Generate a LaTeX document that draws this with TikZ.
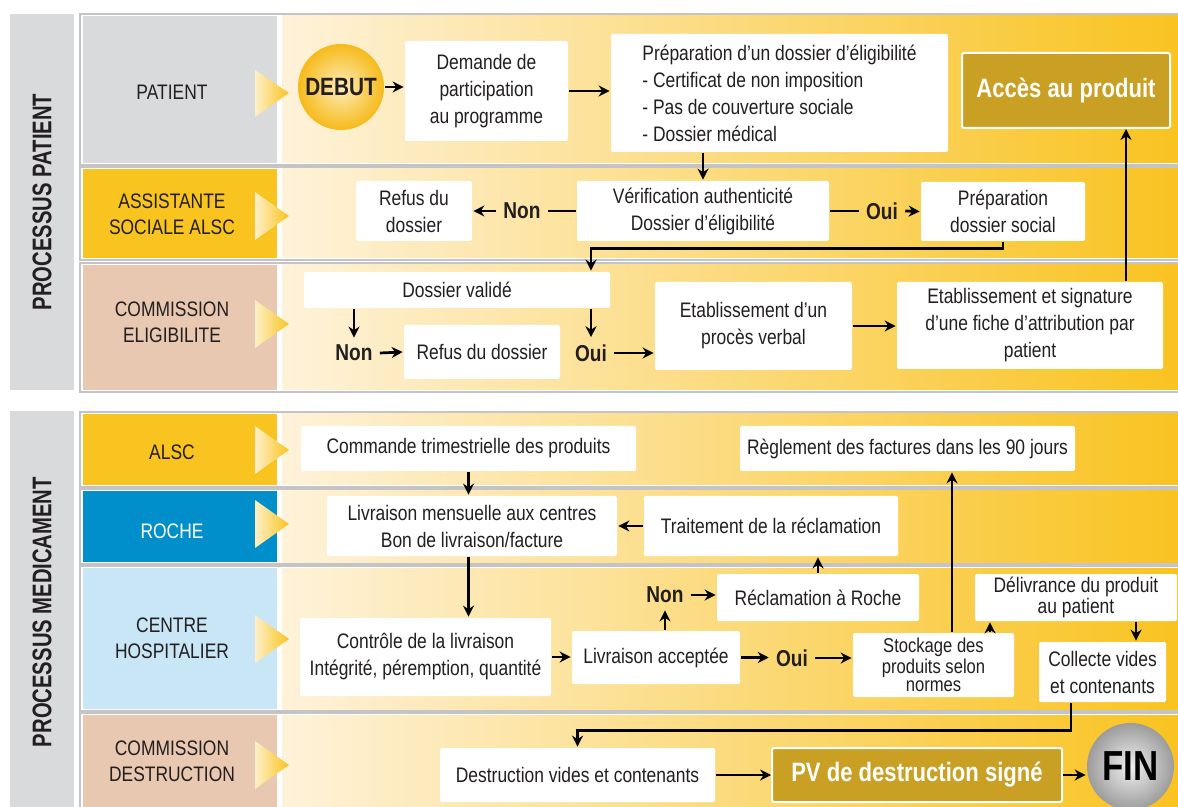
\documentclass[tikz,border=0pt]{standalone}
\usepackage{fontspec}
\setmainfont[FakeStretch=0.83]{Liberation Sans}
\newfontfamily\titlefont[FakeStretch=0.75]{Liberation Sans}
\usepackage{tikz}
\usetikzlibrary{arrows.meta}
\definecolor{laneGray}{HTML}{D9DADC}
\definecolor{laneLine}{HTML}{C4C4C6}
\definecolor{laneYellow}{HTML}{F9C41F}
\definecolor{laneBeige}{HTML}{E8C8B0}
\definecolor{laneBlue}{HTML}{008FCB}
\definecolor{laneSky}{HTML}{C8E6F6}
\definecolor{cream}{HTML}{FEF2DA}
\definecolor{goldR}{HTML}{F9C320}
\definecolor{goldBox}{HTML}{C9A023}
\definecolor{triLeft}{HTML}{FDF0C8}
\definecolor{debutIn}{HTML}{FDEDB8}
\definecolor{debutOut}{HTML}{F6BA1A}
\definecolor{finIn}{HTML}{F0F0F0}
\definecolor{finOut}{HTML}{9C9C9C}
\definecolor{txt}{HTML}{231F20}

\begin{document}
\begin{tikzpicture}[x=0.5pt, y=-0.5pt, line width=1.35pt, >={Stealth[length=5.5pt,width=5.5pt]},
	main/.style={fill=white, rounded corners=1pt, align=center, inner sep=0pt, text=txt, font=\fontsize{10.5}{13.5}\selectfont},
	gold/.style={fill=goldBox, draw=white, line width=1pt, rounded corners=1pt, inner sep=0pt, text=white, font=\bfseries\fontsize{13.3}{15}\selectfont},
	choice/.style={inner sep=3pt, text=txt, font=\bfseries\fontsize{11.5}{14}\selectfont},
	lane/.style={draw=laneLine, line width=0.6pt, fill=white},
	lanelabel/.style={align=center, text=txt, font=\fontsize{10.5}{13}\selectfont},
	title/.style={rotate=90, text=txt, font=\titlefont\bfseries\fontsize{13.5}{15}\selectfont},
	tri/.style={left color=triLeft, right color=goldR}]
		\useasboundingbox (0,0) rectangle (1178,807);

		\fill[laneGray] (10,14) rectangle (74,390);
		\fill[laneGray] (10,411) rectangle (74,807);
		\node[title] (t1) at (42,202) {PROCESSUS PATIENT};
		\node[title] (t2) at (42,612) {PROCESSUS MEDICAMENT};

		\draw[lane] (80,14) rectangle (1182,165);
		\fill[laneGray] (83,16) rectangle (277,163);
		\shade[left color=cream, right color=goldR] (282,16) rectangle (1178,163);
		\draw[lane] (80,167) rectangle (1182,260);
		\fill[laneYellow] (83,169) rectangle (277,258);
		\shade[left color=cream, right color=goldR] (282,169) rectangle (1178,258);
		\draw[lane] (80,263) rectangle (1182,392);
		\fill[laneBeige] (83,265) rectangle (277,390);
		\shade[left color=cream, right color=goldR] (282,265) rectangle (1178,390);

		\draw[lane] (80,412) rectangle (1182,487);
		\fill[laneYellow] (83,414) rectangle (277,485);
		\shade[left color=cream, right color=goldR] (282,414) rectangle (1178,485);
		\draw[lane] (80,489) rectangle (1182,564);
		\fill[laneBlue] (83,491) rectangle (277,562);
		\shade[left color=cream, right color=goldR] (282,491) rectangle (1178,562);
		\draw[lane] (80,566) rectangle (1182,711);
		\fill[laneSky] (83,568) rectangle (277,709);
		\shade[left color=cream, right color=goldR] (282,568) rectangle (1178,709);
		\draw[lane] (80,713) rectangle (1182,809);
		\fill[laneBeige] (83,715) rectangle (277,809);
		\shade[left color=cream, right color=goldR] (282,715) rectangle (1178,809);

		\shade[tri] (255,70) -- (289,93) -- (255,117) -- cycle;
		\shade[tri] (255,192) -- (289,216) -- (255,240) -- cycle;
		\shade[tri] (255,300) -- (289,324) -- (255,348) -- cycle;
		\shade[tri] (255,426) -- (289,450) -- (255,474) -- cycle;
		\shade[tri] (255,500) -- (289,524) -- (255,548) -- cycle;
		\shade[tri] (255,615) -- (289,639) -- (255,663) -- cycle;
		\shade[tri] (255,741) -- (289,765) -- (255,789) -- cycle;

		\node[lanelabel] (l1) at (172,92) {PATIENT};
		\node[lanelabel] (l2) at (172,214) {ASSISTANTE\\SOCIALE ALSC};
		\node[lanelabel] (l3) at (172,322) {COMMISSION\\ELIGIBILITE};
		\node[lanelabel] (l4) at (172,452) {ALSC};
		\node[lanelabel, text=white] (l5) at (172,531) {ROCHE};
		\node[lanelabel] (l6) at (172,638) {CENTRE\\HOSPITALIER};
		\node[lanelabel] (l7) at (172,761) {COMMISSION\\DESTRUCTION};

		\node[circle, minimum size=43pt, inner sep=0pt, inner color=debutIn, outer color=debutOut, text=txt, font=\bfseries\fontsize{12.5}{14}\selectfont] (1) at (341,87) {DEBUT};
		\node[main, minimum width=81.5pt, minimum height=50pt] (2) at (486.5,91) {Demande de\\participation\\au programme};
		\node[main, align=left, minimum width=168.5pt, minimum height=59pt] (3) at (779.5,93) {Préparation d’un dossier d’éligibilité\\- Certificat de non imposition\\- Pas de couverture sociale\\- Dossier médical};
		\node[gold, minimum width=104pt, minimum height=37.5pt] (4) at (1066,90.5) {Accès au produit};

		\node[main, minimum width=58pt, minimum height=30pt] (5) at (414,211) {Refus du\\dossier};
		\node[choice] (6) at (522,211) {Non};
		\node[main, minimum width=126pt, minimum height=30pt] (7) at (703,211) {Vérification authenticité\\Dossier d’éligibilité};
		\node[choice] (8) at (882,211) {Oui};
		\node[main, minimum width=82pt, minimum height=29.5pt] (9) at (1003,211.5) {Préparation\\dossier social};

		\node[main, minimum width=153pt, minimum height=18pt] (10) at (457,290) {Dossier validé};
		\node[choice] (11) at (354,353) {Non};
		\node[main, minimum width=78pt, minimum height=27pt] (12) at (482,352) {Refus du dossier};
		\node[choice] (13) at (591,353) {Oui};
		\node[main, minimum width=98.5pt, minimum height=44pt] (14) at (753.5,326) {Etablissement d’un\\procès verbal};
		\node[main, minimum width=133pt, minimum height=43.5pt] (15) at (1030,325.5) {Etablissement et signature\\d’une fiche d’attribution par\\patient};

		\node[main, minimum width=167.5pt, minimum height=22.5pt] (16) at (468.5,448.5) {Commande trimestrielle des produits};
		\node[main, minimum width=167.5pt, minimum height=22.5pt] (17) at (907.5,448.5) {Règlement des factures dans les 90 jours};
		\node[main, minimum width=145pt, minimum height=30pt] (18) at (472,526) {Livraison mensuelle aux centres\\Bon de livraison/facture};
		\node[main, minimum width=127pt, minimum height=30pt] (19) at (771,526) {Traitement de la réclamation};
		\node[choice] (20) at (665,595) {Non};
		\node[main, minimum width=101pt, minimum height=23.5pt] (21) at (818,597.5) {Réclamation à Roche};
		\node[main, minimum width=125.5pt, minimum height=39pt] (22) at (425.5,657) {Contrôle de la livraison\\Intégrité, péremption, quantité};
		\node[main, minimum width=84pt, minimum height=26.5pt] (23) at (656,657.5) {Livraison acceptée};
		\node[choice] (24) at (792,658) {Oui};
		\node[main, minimum width=80.5pt, minimum height=32pt, font=\fontsize{10}{9.3}\selectfont] (25) at (933.5,665) {Stockage des\\produits selon\\normes};
		\node[main, minimum width=101pt, minimum height=23.5pt, font=\fontsize{10.5}{8.8}\selectfont] (26) at (1076,597.5) {Délivrance du produit\\au patient};
		\node[main, minimum width=63.5pt, minimum height=30pt] (27) at (1102.5,672) {Collecte vides\\et contenants};
		\node[main, minimum width=137.5pt, minimum height=27pt] (28) at (577.5,775) {Destruction vides et contenants};
		\node[gold, minimum width=145pt, minimum height=27pt] (29) at (917,775) {PV de destruction signé};
		\node[circle, minimum size=43.5pt, inner sep=0pt, inner color=finIn, outer color=finOut, text=black, font=\bfseries\fontsize{21}{22}\selectfont] (30) at (1130.5,766.5) {FIN};

		\draw[->] (1.east) -- (1.east -| 2.west);
		\draw[->] (2.east) -- (2.east -| 3.west);
		\draw[->] (7.north |- 3.south) -- (7.north);
		\draw (7.west) -- (6.east);
		\draw[->] (6.west) -- (5.east);
		\draw (7.east) -- (8.west);
		\draw[->] (8.east) -- (9.west);
		\draw[->] (9.south) -- ++(0,6) -| (13 |- 10.north);
		\draw[->] (11 |- 10.south) -- (11.north);
		\draw[->] (11.east) -- (12.west);
		\draw[->] (13 |- 10.south) -- (13.north);
		\draw[->] (13.east) -- (13.east -| 14.west);
		\draw[->] (14.east) -- (14.east -| 15.west);
		\coordinate (a) at ([xshift=-22.5pt]4.south east);
		\draw[->] (a |- 15.north) -- (a);

		\draw[->] (16.south) -- (16.south |- 18.north);
		\draw[->] (16.south |- 18.south) -- (16.south |- 22.north);
		\draw[->] (19.west) -- (19.west -| 18.east);
		\draw[->] (21.north) -- (21.north |- 19.south);
		\draw[->] (20 |- 23.north) -- (20.south);
		\draw[->] (20.east) -- (20.east -| 21.west);
		\draw[->] (22.east) -- (22.east -| 23.west);
		\draw[->] (23.east) -- (23.east -| 24.west);
		\draw[->] (24.east) -- (24.east -| 25.west);
		\coordinate (b) at ([xshift=9.25pt]25.north);
		\draw[->] (b) -- (b |- 17.south);
		\coordinate (c) at ([xshift=28.25pt]25.north);
		\draw[->] (c) -- (c |- 26.south);
		\coordinate (d) at ([xshift=16.75pt]27.north);
		\draw[->] (d |- 26.south) -- (d);
		\draw[->] ([xshift=-15.75pt]27.south) -- ++(0,27) -| (28.north);
		\draw[->] (28.east) -- (29.west);
		\draw[->] (29.east) -- (29.east -| 30.west);
	\end{tikzpicture}
\end{document}
